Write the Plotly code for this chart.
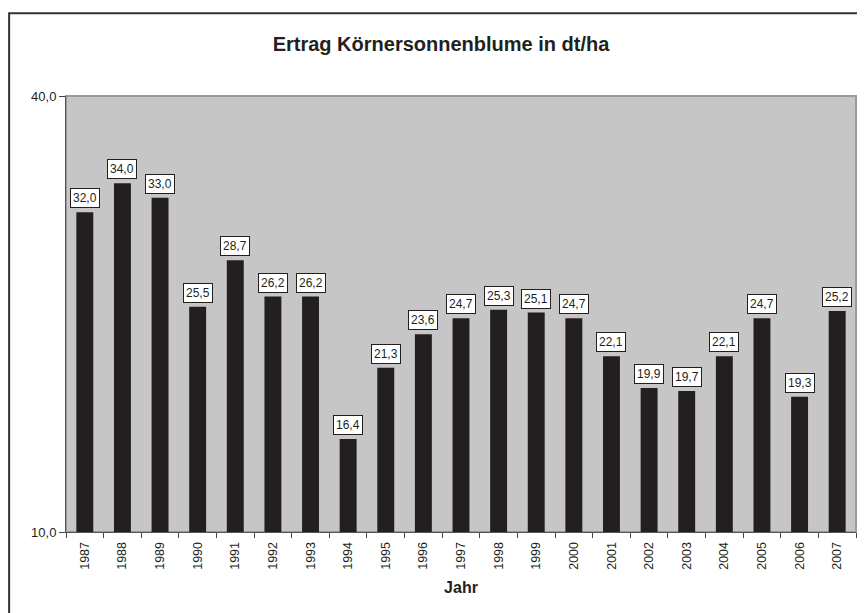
import plotly.graph_objects as go


# ==========================
# DATA
# ==========================

years = [
    "1987", "1988", "1989", "1990", "1991", "1992", "1993",
    "1994", "1995", "1996", "1997", "1998", "1999", "2000",
    "2001", "2002", "2003", "2004", "2005", "2006", "2007"
]

ertrag = [
    32.0, 34.0, 33.0, 25.5, 28.7, 26.2, 26.2,
    16.4, 21.3, 23.6, 24.7, 25.3, 25.1, 24.7,
    22.1, 19.9, 19.7, 22.1, 24.7, 19.3, 25.2
]

y_ticks = [10, 40]
y_tick_labels = ["10,0", "40,0"]


FONT = "Liberation Sans, Arial, sans-serif"


fig = go.Figure()


# Bars

fig.add_trace(
    go.Bar(
        x=years,
        y=ertrag,
        marker=dict(color="#231f20", line=dict(width=0)),
        hoverinfo="x+y"
    )
)


# Value labels in white boxes (x given as category index)

for i, value in enumerate(ertrag):

    fig.add_annotation(
        x=i,
        y=value,
        text=f"{value:.1f}".replace(".", ","),
        showarrow=False,
        yanchor="bottom",
        yshift=4,
        font=dict(family=FONT, size=12, color="#231f20"),
        bgcolor="white",
        bordercolor="#231f20",
        borderwidth=1,
        borderpad=2
    )


# The page adds an 8px body margin, so the layout is shifted by that much

fig.update_layout(

    title=dict(
        text="<b>Ertrag Körnersonnenblume in dt/ha</b>",
        x=0.5006,
        xanchor="center",
        yref="container",
        y=0.942,
        yanchor="middle",
        font=dict(family=FONT, size=20, color="#231f20")
    ),

    width=865,
    height=613,
    margin=dict(l=58, r=17, t=88, b=89, autoexpand=False),

    paper_bgcolor="white",
    plot_bgcolor="#c6c6c6",

    bargap=0.55,
    showlegend=False,

    font=dict(family=FONT, size=12, color="#231f20"),

    xaxis=dict(
        type="category",
        range=[-0.5, len(years) - 0.5],
        tickangle=-90,
        tickson="boundaries",
        ticks="outside",
        ticklen=5,
        ticklabelstandoff=4,
        tickcolor="#444444",
        showline=True,
        linecolor="#555555",
        linewidth=1,
        showgrid=False,
        tickfont=dict(family=FONT, size=12.5, color="#231f20"),
        title=dict(
            text="<b>Jahr</b>",
            font=dict(family=FONT, size=16, color="#231f20"),
            standoff=12
        )
    ),

    yaxis=dict(
        range=[10, 40],
        tickvals=y_ticks,
        ticktext=y_tick_labels,
        ticks="outside",
        ticklen=6,
        tickcolor="#444444",
        showline=True,
        linecolor="#555555",
        linewidth=1,
        showgrid=False,
        zeroline=False,
        tickfont=dict(family=FONT, size=13, color="#231f20")
    )
)


# Lighter border on top and right of the plot area

fig.add_shape(
    type="rect",
    xref="paper",
    yref="paper",
    x0=0,
    x1=1,
    y0=0,
    y1=1,
    line=dict(color="#9a9a9a", width=2),
    layer="below"
)


# Outer frame (right and bottom edges fall outside the picture)

fig.add_shape(
    type="rect",
    xref="paper",
    yref="paper",
    x0=-0.072,
    x1=1.05,
    y0=-0.3,
    y1=1.19,
    line=dict(color="#333333", width=2),
    layer="below"
)


fig.write_html("out.html")
